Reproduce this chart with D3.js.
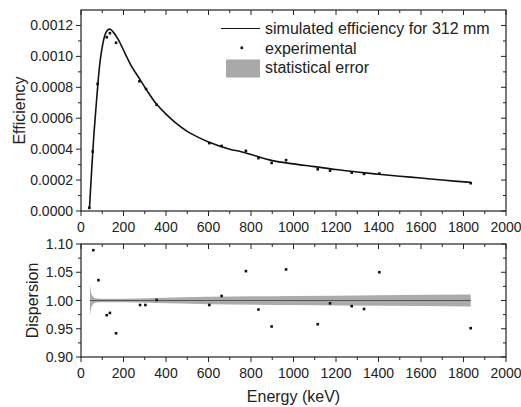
<!DOCTYPE html>
<html><head><meta charset="utf-8">
<script src="https://cdn.jsdelivr.net/npm/d3@7"></script>
<style>body{margin:0;background:#fff}svg{display:block}text{font-family:"Liberation Sans",Arial,sans-serif;fill:#222}</style>
</head><body><svg id="c" width="521" height="407"></svg>
<script>
// Experimental efficiency points
const expEnergy = [39, 55, 78, 121, 136, 165, 275, 306, 356, 604, 662, 776, 835, 897, 965, 1114, 1172, 1274, 1332, 1404, 1834];
const expEff = [0.00002, 0.000385, 0.000822, 0.001124, 0.00115, 0.001088, 0.000839, 0.000789, 0.000687, 0.000439, 0.000421, 0.000389, 0.000342, 0.000311, 0.000329, 0.00027, 0.000261, 0.000248, 0.00024, 0.000242, 0.00018];
// Simulated efficiency curve
const simEnergy = [40, 50, 60, 70, 80, 90, 100, 113, 125, 137, 150, 175, 207, 240, 278, 310, 356, 400, 450, 500, 550, 600, 700, 750, 800, 900, 1000, 1100, 1200, 1300, 1400, 1500, 1600, 1700, 1834];
const simEff = [0.00002, 0.00026, 0.00048, 0.00066, 0.00083, 0.00097, 0.00106, 0.00114, 0.00117, 0.001176, 0.00116, 0.00111, 0.00102, 0.00093, 0.00085, 0.00078, 0.00069, 0.000627, 0.000565, 0.000515, 0.000478, 0.000447, 0.0004, 0.000385, 0.000365, 0.000326, 0.000305, 0.000287, 0.000268, 0.000252, 0.000238, 0.000225, 0.000213, 0.0002, 0.000185];
// Dispersion points
const dispEnergy = [58, 82, 121, 136, 165, 278, 303, 356, 604, 662, 776, 835, 897, 965, 1114, 1172, 1274, 1332, 1404, 1834];
const dispValue = [1.089, 1.036, 0.974, 0.978, 0.942, 0.992, 0.992, 1.001, 0.992, 1.008, 1.052, 0.984, 0.954, 1.055, 0.958, 0.995, 0.990, 0.985, 1.050, 0.951];
// Statistical error band (half-width around 1)
const errEnergy = [42, 44, 46, 50, 55, 62, 75, 100, 200, 350, 600, 1000, 1400, 1834];
const errHalf = [0.028, 0.022, 0.017, 0.011, 0.0075, 0.005, 0.0035, 0.003, 0.003, 0.0045, 0.0065, 0.008, 0.0095, 0.0105];
// Tick labels
const xTicks = [0, 200, 400, 600, 800, 1000, 1200, 1400, 1600, 1800, 2000];
const effTicks = [0, 0.0002, 0.0004, 0.0006, 0.0008, 0.0010, 0.0012];
const dispTicks = [0.90, 0.95, 1.00, 1.05, 1.10];
const legendLabels = ["simulated efficiency for 312 mm", "experimental", "statistical error"];

const svg = d3.select("#c");
const L = 81, R = 506;
const T1 = 10, B1 = 211, T2 = 244, B2 = 357;
const x = d3.scaleLinear().domain([0, 2000]).range([L, R]);
const y1 = d3.scaleLinear().domain([0, 0.0013]).range([B1, T1]);
const y2 = d3.scaleLinear().domain([0.90, 1.10]).range([B2, T2]);
const col = "#222";
const minorX = d3.range(0, 2001, 100);

function frame(y, T, B, majors, minors, fmt) {
  const g = svg.append("g");
  g.append("rect").attr("x", L).attr("y", T).attr("width", R - L).attr("height", B - T)
    .attr("fill", "none").attr("stroke", col).attr("stroke-width", 1.2);
  minorX.forEach(v => {
    const major = xTicks.includes(v);
    const len = major ? 5 : 3;
    g.append("line").attr("x1", x(v)).attr("x2", x(v)).attr("y1", B).attr("y2", B + len).attr("stroke", col);
    g.append("line").attr("x1", x(v)).attr("x2", x(v)).attr("y1", T).attr("y2", T + len).attr("stroke", col);
  });
  xTicks.forEach(v => {
    g.append("text").attr("x", x(v)).attr("y", B + 20.5).attr("text-anchor", "middle")
      .attr("font-size", 14).text(v);
  });
  minors.forEach(v => {
    g.append("line").attr("x1", L - 3).attr("x2", L).attr("y1", y(v)).attr("y2", y(v)).attr("stroke", col);
    g.append("line").attr("x1", R - 3).attr("x2", R).attr("y1", y(v)).attr("y2", y(v)).attr("stroke", col);
  });
  majors.forEach(v => {
    g.append("line").attr("x1", L - 5).attr("x2", L).attr("y1", y(v)).attr("y2", y(v)).attr("stroke", col);
    g.append("line").attr("x1", R - 5).attr("x2", R).attr("y1", y(v)).attr("y2", y(v)).attr("stroke", col);
    g.append("text").attr("x", L - 8).attr("y", y(v) + 5).attr("text-anchor", "end")
      .attr("font-size", 14).text(fmt(v));
  });
}

// Top panel
const effMinor = d3.range(0.0001, 0.0013, 0.0002);
frame(y1, T1, B1, effTicks, effMinor, d3.format(".4f"));
const line = d3.line().x(d => x(d[0])).y(d => y1(d[1])).curve(d3.curveCatmullRom.alpha(0.5));
svg.append("path").datum(simEnergy.map((e, i) => [e, simEff[i]]))
  .attr("d", line).attr("fill", "none").attr("stroke", "#111").attr("stroke-width", 1.6);
svg.append("g").selectAll("rect").data(expEnergy.map((e, i) => [e, expEff[i]])).join("rect")
  .attr("x", d => x(d[0]) - 1.3).attr("y", d => y1(d[1]) - 1.3).attr("width", 2.6).attr("height", 2.6).attr("fill", "#111");

// Legend
const lg = svg.append("g");
lg.append("line").attr("x1", 221).attr("x2", 260).attr("y1", 28.5).attr("y2", 28.5).attr("stroke", "#111").attr("stroke-width", 1.2);
lg.append("rect").attr("x", 240.5).attr("y", 46.5).attr("width", 2.6).attr("height", 2.6).attr("fill", "#111");
lg.append("rect").attr("x", 226).attr("y", 59.5).attr("width", 34).attr("height", 18).attr("fill", "#a9a9a9");
legendLabels.forEach((t, i) => {
  lg.append("text").attr("x", 265).attr("y", 34 + i * 19.7).attr("font-size", 16).text(t);
});

// Bottom panel
const dispMinor = [0.925, 0.975, 1.025, 1.075];
const band = d3.area().x(d => x(d[0])).y0(d => y2(1 - d[1])).y1(d => y2(1 + d[1])).curve(d3.curveMonotoneX);
svg.append("path").datum(errEnergy.map((e, i) => [e, errHalf[i]])).attr("d", band).attr("fill", "#ababab");
svg.append("line").attr("x1", x(errEnergy[0])).attr("x2", x(errEnergy[errEnergy.length - 1]))
  .attr("y1", y2(1)).attr("y2", y2(1)).attr("stroke", "#555").attr("stroke-width", 1.2);
frame(y2, T2, B2, dispTicks, dispMinor, d3.format(".2f"));
svg.append("g").selectAll("rect").data(dispEnergy.map((e, i) => [e, dispValue[i]])).join("rect")
  .attr("x", d => x(d[0]) - 1.3).attr("y", d => y2(d[1]) - 1.3).attr("width", 2.6).attr("height", 2.6).attr("fill", "#111");

// Axis titles
svg.append("text").attr("transform", `translate(25,${(T1 + B1) / 2}) rotate(-90)`).attr("text-anchor", "middle")
  .attr("font-size", 16).text("Efficiency");
svg.append("text").attr("transform", `translate(38,${(T2 + B2) / 2}) rotate(-90)`).attr("text-anchor", "middle")
  .attr("font-size", 16).text("Dispersion");
svg.append("text").attr("x", (L + R) / 2).attr("y", 402).attr("text-anchor", "middle")
  .attr("font-size", 16).text("Energy (keV)");
</script></body></html>
